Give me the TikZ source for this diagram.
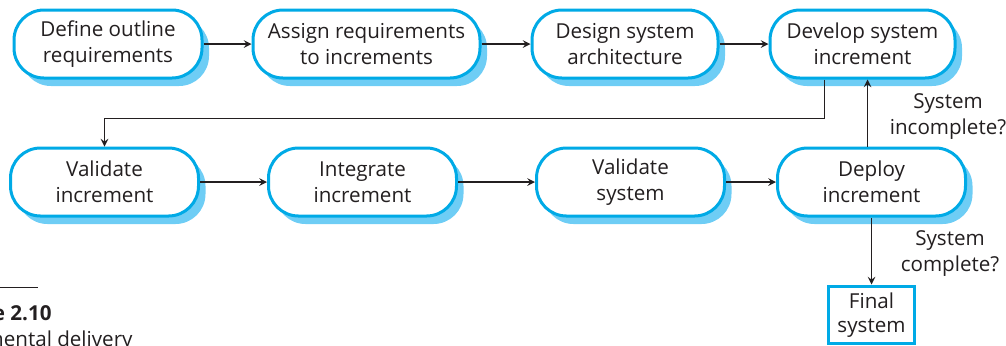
\documentclass[tikz,border=0pt]{standalone}
\usepackage{fontspec}
\setmainfont{Open Sans}
\usepackage{tikz}
\usepackage{xcolor}
\usetikzlibrary{positioning,shadows,arrows}
\definecolor{azul}{RGB}{0,170,230}
\definecolor{sombra}{RGB}{110,205,245}
\definecolor{texto}{RGB}{35,31,32}
\tikzstyle{activity} = [rectangle, rounded corners=15pt, minimum width=94pt, minimum height=34pt, text centered, align=center, draw=azul, line width=1.5pt, fill=white, drop shadow={shadow xshift=3.5pt, shadow yshift=-4pt, fill=sombra, opacity=1}, text=texto, font=\fontsize{10.3}{13}\selectfont]
\tikzstyle{outcome} = [rectangle, minimum width=43pt, minimum height=28pt, text centered, align=center, draw=azul, line width=1.5pt, fill=white, text=texto, font=\fontsize{10.3}{12}\selectfont]
\tikzstyle{connector} = [line width=0.7pt,->,>=stealth, draw=texto]
\tikzstyle{note} = [align=center, text=texto, font=\fontsize{10.3}{13}\selectfont]

\begin{document}
\begin{tikzpicture}[x=0.5pt, y=-0.5pt]
        \useasboundingbox (0,0) rectangle (1006,345);
        \clip (0,0) rectangle (1006,345);
        % First row
        \node (define) [activity] at (108,44) {Define outline\\requirements};
        \node (assign) [activity, minimum width=113.5pt, right=24pt of define] {Assign requirements\\to increments};
        \node (design) [activity, minimum width=93pt, right=24.5pt of assign] {Design system\\architecture};
        \node (develop) [activity, minimum width=92.5pt, right=24.5pt of design] {Develop system\\increment};
        % Second row
        \node (validateinc) [activity, below=33.5pt of define, xshift=-1.75pt] {Validate\\increment};
        \node (integrate) [activity, right=33.5pt of validateinc] {Integrate\\increment};
        \node (validatesys) [activity, right=38.5pt of integrate] {Validate\\system};
        \node (deploy) [activity, right=25pt of validatesys] {Deploy\\increment};
        % Result
        \node (final) [outcome, below=33.5pt of deploy] {Final\\system};
        % Connections in the first row
        \draw [connector] (define) -- (assign);
        \draw [connector] (assign) -- (design);
        \draw [connector] (design) -- (develop);
        % Back to the second row
        \draw [connector] ([xshift=-19pt]develop.south) -- ++(0,39) -| (validateinc.north);
        % Connections in the second row
        \draw [connector] (validateinc) -- (integrate);
        \draw [connector] (integrate) -- (validatesys);
        \draw [connector] (validatesys) -- (deploy);
        % Loop and exit
        \draw [connector] ([xshift=-2pt]deploy.north) -- ([xshift=-2pt]deploy.north |- develop.south);
        \draw [connector] (deploy) -- (final);
        \node (incomplete) [note] at (948,117) {System\\incomplete?};
        \node (complete) [note] at (950,254) {System\\complete?};
        % Caption
        \draw [line width=0.5pt, texto] (0,287) -- (38,287);
        \node (figure) [note, inner sep=0pt, anchor=base east, font=\fontsize{10.3}{13}\selectfont\bfseries] at (52,320) {Figure 2.10};
        \node (caption) [note, inner sep=0pt, anchor=base east] at (133,346) {Incremental delivery};
    \end{tikzpicture}
\end{document}
